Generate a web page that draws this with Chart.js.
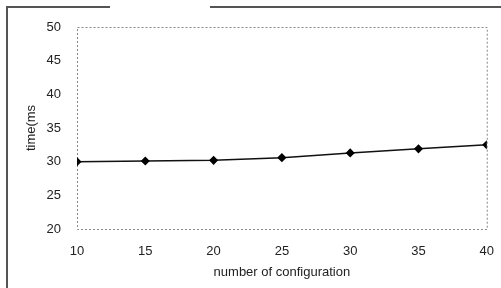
<!DOCTYPE html>
<html lang="en">
  <head>
    <meta charset="UTF-8" />
    <script src="https://cdn.jsdelivr.net/npm/chart.js@4/dist/chart.umd.min.js"></script>
    <title>time vs configuration</title>
    <style>
      body { margin: 0; background: #fff; }
    </style>
  </head>
  <body>
    <canvas id="myChart" width="501" height="288"></canvas>
    <script>
      const configs = [10, 15, 20, 25, 30, 35, 40];
      const timeMs = [30.0, 30.1, 30.2, 30.6, 31.3, 31.9, 32.5];
      const yTicks = [20, 25, 30, 35, 40, 45, 50];

      // outer frame (scanned page edge) + dashed plot border
      const framePlugin = {
        id: "frame",
        beforeDraw(chart) {
          const c = chart.ctx;
          c.save();
          c.strokeStyle = "#555";
          c.lineWidth = 2;
          c.beginPath();
          c.moveTo(7, 288);
          c.lineTo(7, 7);
          c.lineTo(110, 7);
          c.moveTo(210, 7);
          c.lineTo(501, 7);
          c.stroke();
          c.restore();
        },
        beforeDatasetsDraw(chart) {
          const a = chart.chartArea;
          const c = chart.ctx;
          c.save();
          c.strokeStyle = "#888";
          c.lineWidth = 1;
          c.setLineDash([2, 2]);
          c.strokeRect(a.left + 0.5, a.top + 0.5, a.right - a.left, a.bottom - a.top);
          c.restore();
        },
      };

      const font = { family: "'Liberation Sans', Arial, sans-serif", size: 13 };

      new Chart(document.getElementById("myChart").getContext("2d"), {
        type: "line",
        plugins: [framePlugin],
        data: {
          datasets: [
            {
              data: configs.map((x, i) => ({ x: x, y: timeMs[i] })),
              borderColor: "#111",
              borderWidth: 1.5,
              pointStyle: "rectRot",
              pointRadius: 3.5,
              pointBackgroundColor: "#000",
              pointBorderColor: "#000",
              tension: 0,
            },
          ],
        },
        options: {
          responsive: false,
          animation: false,
          layout: { padding: { left: 0, top: 27, right: 13, bottom: 0 } },
          plugins: { legend: { display: false }, tooltip: { enabled: false } },
          scales: {
            x: {
              type: "linear",
              min: 10,
              max: 40,
              afterBuildTicks: (s) => { s.ticks = configs.map((v) => ({ value: v })); },
              afterFit: (s) => { s.height = 59; },
              grid: { display: false },
              border: { display: false },
              ticks: { color: "#222", font: font, padding: 7 },
              title: {
                display: true,
                text: "number of configuration",
                color: "#222",
                font: { family: font.family, size: 13 },
                padding: { top: 0, bottom: 8 },
              },
            },
            y: {
              min: 20,
              max: 50,
              afterBuildTicks: (s) => { s.ticks = yTicks.map((v) => ({ value: v })); },
              afterFit: (s) => { s.width = 77; },
              grid: { display: false },
              border: { display: false },
              ticks: { color: "#222", font: font, padding: 8 },
              title: {
                display: true,
                text: "time(ms",
                color: "#222",
                font: { family: font.family, size: 13 },
                padding: { top: 24, bottom: 0 },
              },
            },
          },
        },
      });
    </script>
  </body>
</html>
